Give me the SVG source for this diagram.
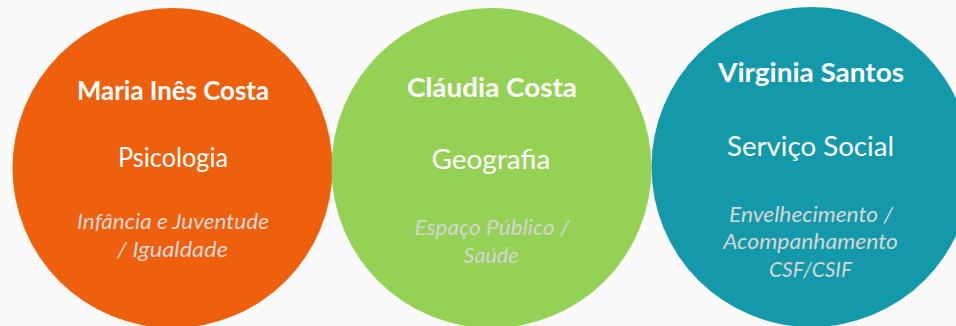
<svg xmlns="http://www.w3.org/2000/svg" width="956" height="326" viewBox="0 0 956 326">
  <style>
    text { font-family: Lato, "Open Sans", "Liberation Sans", sans-serif; text-anchor: middle; }
    .title { font-weight: bold; font-size: 27px; fill: #FFFFFF; }
    .field { font-size: 27px; fill: #FFFFFF; }
    .topic { font-style: italic; font-size: 22px; fill: #D6D6D6; }
  </style>
  <rect x="0" y="0" width="956" height="326" fill="#FAFAFA"/>
  <g id="node-maria">
    <circle cx="172.5" cy="168" r="160" fill="#EE600C"/>
    <text class="title" x="173" y="100" textLength="192" lengthAdjust="spacingAndGlyphs">Maria Inês Costa</text>
    <text class="field" x="173" y="167" textLength="110" lengthAdjust="spacingAndGlyphs">Psicologia</text>
    <text class="topic" x="173" y="229" textLength="192" lengthAdjust="spacingAndGlyphs">Infância e Juventude</text>
    <text class="topic" x="172.5" y="257" textLength="111" lengthAdjust="spacingAndGlyphs">/ Igualdade</text>
  </g>
  <g id="node-claudia">
    <circle cx="491.5" cy="168" r="160" fill="#94D155"/>
    <text class="title" x="492" y="97" textLength="170" lengthAdjust="spacingAndGlyphs">Cláudia Costa</text>
    <text class="field" x="491" y="169" textLength="119" lengthAdjust="spacingAndGlyphs">Geografia</text>
    <text class="topic" x="492" y="235" textLength="155" lengthAdjust="spacingAndGlyphs">Espaço Público /</text>
    <text class="topic" x="491" y="263" textLength="55" lengthAdjust="spacingAndGlyphs">Saúde</text>
  </g>
  <g id="node-virginia">
    <circle cx="811.5" cy="167" r="160" fill="#1399AA"/>
    <text class="title" x="811" y="82" textLength="186" lengthAdjust="spacingAndGlyphs">Virginia Santos</text>
    <text class="field" x="810.5" y="156" textLength="167" lengthAdjust="spacingAndGlyphs">Serviço Social</text>
    <text class="topic" x="811" y="222" textLength="164" lengthAdjust="spacingAndGlyphs">Envelhecimento /</text>
    <text class="topic" x="810.5" y="249" textLength="175" lengthAdjust="spacingAndGlyphs">Acompanhamento</text>
    <text class="topic" x="810.5" y="277" textLength="83" lengthAdjust="spacingAndGlyphs">CSF/CSIF</text>
  </g>
  <g id="connectors"/>
</svg>
